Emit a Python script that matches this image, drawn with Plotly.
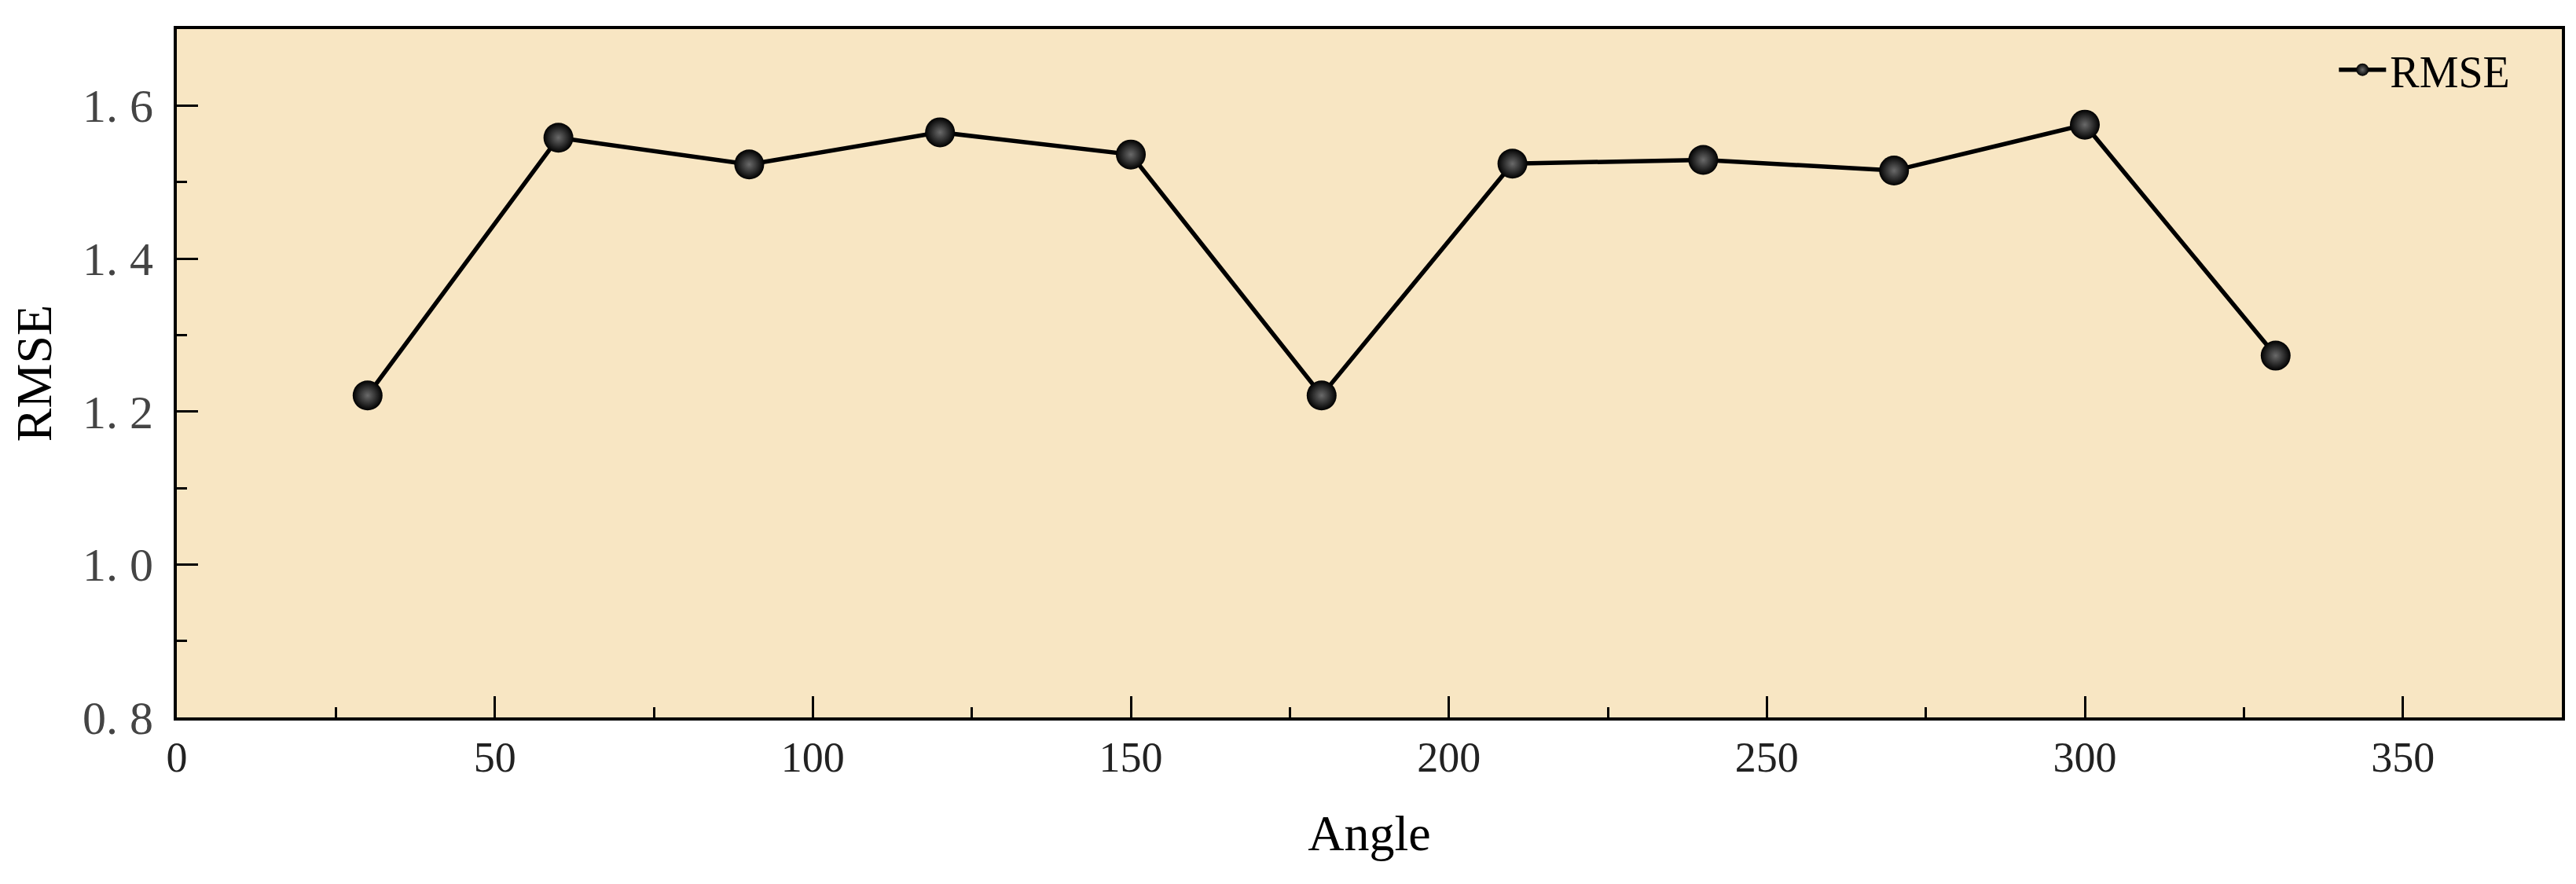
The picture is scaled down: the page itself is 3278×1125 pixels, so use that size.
import plotly.graph_objects as go

angle = [30, 60, 90, 120, 150, 180, 210, 240, 270, 300, 330]
rmse = [1.221, 1.558, 1.523, 1.565, 1.536, 1.221, 1.524, 1.529, 1.515, 1.575, 1.273]

y_ticks = [0.8, 1.0, 1.2, 1.4, 1.6]
y_tick_text = ["0. 8", "1. 0", "1. 2", "1. 4", "1. 6"]
x_ticks = [0, 50, 100, 150, 200, 250, 300, 350]

serif = "Liberation Serif, Times New Roman, serif"

fig = go.Figure()
fig.add_trace(go.Scatter(
    x=angle, y=rmse, mode="lines+markers", name="RMSE",
    line=dict(color="black", width=5.5),
    marker=dict(size=38, color="black",
                gradient=dict(type="radial", color="#6a6a6a"),
                line=dict(width=0)),
))

fig.update_layout(
    width=3278, height=1125,
    margin=dict(l=217, r=26, t=29, b=220),
    plot_bgcolor="#F8E6C3",
    paper_bgcolor="white",
    font=dict(family=serif, size=56, color="black"),
    showlegend=True,
    legend=dict(x=0.98, y=0.99, xanchor="right", yanchor="top",
                bgcolor="rgba(0,0,0,0)", font=dict(size=56),
                itemwidth=60),
)

fig.update_xaxes(
    range=[0, 375], tickvals=x_ticks,
    ticks="inside", ticklen=27, tickwidth=3, tickcolor="black",
    minor=dict(dtick=25, ticks="inside", ticklen=13, tickwidth=3, tickcolor="black"),
    showline=True, linecolor="black", linewidth=4, mirror=True,
    showgrid=False, zeroline=False,
    tickfont=dict(size=54, color="#222"),
    title=dict(text="Angle", font=dict(size=64), standoff=45),
)
fig.update_yaxes(
    range=[0.8, 1.7], tickvals=y_ticks, ticktext=y_tick_text,
    ticks="inside", ticklen=27, tickwidth=3, tickcolor="black",
    minor=dict(dtick=0.1, ticks="inside", ticklen=13, tickwidth=3, tickcolor="black"),
    showline=True, linecolor="black", linewidth=4, mirror=True,
    showgrid=False, zeroline=False,
    ticklabelstandoff=14,
    tickfont=dict(size=60, color="#444"),
    title=dict(text="RMSE", font=dict(size=64), standoff=30),
)

fig.write_html("out.html")
